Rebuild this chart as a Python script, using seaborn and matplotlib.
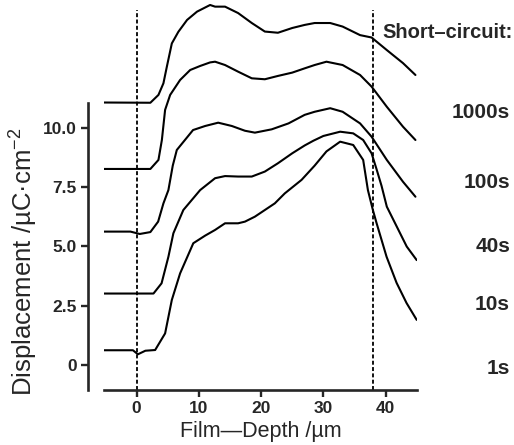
import matplotlib
matplotlib.use('Agg')
import matplotlib.pyplot as plt
import seaborn as sns
import pandas as pd

# curves (depth in um, displacement in uC/cm^2, stacked offsets as drawn)
times = ['1000s', '100s', '40s', '10s', '1s']

depth_1000 = [-5.3, 2.2, 3.5, 4.3, 4.85, 5.65, 6.7, 8.1, 9.7, 11.8, 12.6, 14.2, 16.3, 18.5,
              20.6, 22.7, 25.0, 27.0, 28.6, 31.1, 33.1, 35.9, 37.75, 40.2, 42.8, 44.8]
disp_1000 = [11.06, 11.05, 11.38, 11.87, 12.57, 13.55, 14.04, 14.54, 14.89, 15.17, 15.1, 15.1, 14.83, 14.41,
             14.05, 14.0, 14.2, 14.33, 14.41, 14.41, 14.26, 13.9, 13.8, 13.27, 12.72, 12.22]

depth_100 = [-5.3, 2.2, 3.5, 4.05, 4.57, 5.38, 6.98, 8.6, 10.2, 11.8, 12.6, 14.2, 16.3, 18.5,
             20.6, 22.7, 25.0, 27.0, 28.6, 30.5, 33.1, 35.9, 37.75, 40.2, 42.8, 44.8]
disp_100 = [8.26, 8.26, 8.64, 9.48, 10.75, 11.38, 12.01, 12.43, 12.6, 12.75, 12.78, 12.64, 12.36, 12.08,
            12.04, 12.18, 12.32, 12.5, 12.64, 12.78, 12.64, 12.22, 11.73, 10.88, 10.04, 9.48]

depth_40 = [-5.3, -1.0, 0.5, 2.2, 3.45, 4.3, 5.1, 5.8, 6.45, 9.06, 11.0, 13.1, 15.3, 17.4, 19.0,
            21.7, 24.4, 27.0, 28.6, 31.1, 33.1, 35.9, 37.75, 40.2, 42.8, 44.8]
disp_40 = [5.62, 5.62, 5.52, 5.6, 6.04, 6.81, 7.37, 8.4, 9.06, 9.9, 10.07, 10.21, 10.07, 9.87, 9.79,
           9.93, 10.18, 10.54, 10.67, 10.82, 10.67, 10.18, 9.62, 8.64, 7.72, 7.09]

depth_10 = [-5.3, 2.7, 4.0, 5.1, 5.9, 7.5, 10.2, 12.6, 14.2, 16.3, 18.5, 20.6, 22.7, 25.0, 27.0,
            28.4, 30.0, 32.7, 34.8, 36.4, 37.75, 38.55, 39.35, 40.2, 41.8, 43.4, 45.0]
disp_10 = [3.01, 3.01, 3.44, 4.56, 5.55, 6.53, 7.37, 7.87, 7.96, 7.94, 7.94, 8.15, 8.5, 8.92, 9.25,
           9.45, 9.65, 9.83, 9.76, 9.48, 8.92, 8.25, 7.55, 6.67, 5.83, 4.99, 4.42]

depth_1 = [-5.3, -0.6, 0.2, 1.4, 2.97, 4.57, 5.65, 6.98, 9.1, 11.0, 12.6, 14.2, 16.3, 17.4, 19.0,
           20.6, 22.2, 23.8, 26.5, 28.6, 30.5, 32.7, 34.8, 36.4, 37.16, 37.96, 38.55, 40.16,
           41.77, 43.37, 45.0]
disp_1 = [0.62, 0.62, 0.45, 0.6, 0.63, 1.33, 2.74, 3.86, 5.13, 5.45, 5.69, 5.97, 5.97, 6.04, 6.25,
          6.53, 6.81, 7.23, 7.8, 8.4, 9.0, 9.41, 9.27, 8.64, 7.37, 6.53, 5.98, 4.56,
          3.46, 2.61, 1.9]

curves = [(depth_1000, disp_1000), (depth_100, disp_100), (depth_40, disp_40),
          (depth_10, disp_10), (depth_1, disp_1)]

xticks = [0, 10, 20, 30, 40]
yticks = [0, 2.5, 5.0, 7.5, 10.0]
ytick_labels = ['0', '2.5', '5.0', '7.5', '10.0']
marker_depths = [0, 38]

rows = []
for t, (xs, ys) in zip(times, curves):
    for x, y in zip(xs, ys):
        rows.append({'time': t, 'depth': x, 'disp': y})
df = pd.DataFrame(rows)

sns.set_style('ticks')
plt.rcParams['font.family'] = ['Liberation Sans', 'DejaVu Sans']
plt.rcParams['mathtext.fontset'] = 'custom'
plt.rcParams['mathtext.rm'] = 'Liberation Sans'
plt.rcParams['mathtext.it'] = 'Liberation Sans:italic'

fig = plt.figure(figsize=(5.14, 4.45), dpi=100)
ax = fig.add_axes([104 / 514, 55 / 445, 313 / 514, 390 / 445])

sns.lineplot(data=df, x='depth', y='disp', units='time', estimator=None, sort=False,
             color='black', linewidth=1.5, legend=False, ax=ax)

ax.vlines(marker_depths, -1.055, 14.96, colors='black', linewidth=1.3,
          linestyles=(0, (2.2, 1.3)))

ax.set_xlim(-5.25, 45.05)
ax.set_ylim(-1.055, 15.38)

ax.spines['top'].set_visible(False)
ax.spines['right'].set_visible(False)
ax.spines['left'].set_position(('outward', 11.5))
ax.spines['left'].set_bounds(-1.055, 11.05)
for s in ['left', 'bottom']:
    ax.spines[s].set_linewidth(1.9)

ax.set_xticks(xticks)
ax.set_yticks(yticks)
ax.set_yticklabels(ytick_labels)
ax.tick_params(direction='out', length=5, width=1.7, labelsize=12.5, pad=3)
for lab in ax.get_xticklabels() + ax.get_yticklabels():
    lab.set_fontweight('bold')

ax.set_xlabel('Film\u2014Depth /\u00b5m', fontsize=15.5)
ax.set_ylabel('Displacement /\u00b5C\u00b7cm$^{-2}$', fontsize=18.5)
ax.xaxis.set_label_coords(0.5, -0.08)
ax.yaxis.set_label_coords(-0.204, 0.33)

fig.text(382 / 514, 1 - 33 / 445, 'Short\u2013circuit:', ha='left', va='center',
         fontsize=14.5, fontweight='bold')
label_rows = [113, 182, 247, 305, 368]
for t, py in zip(times, label_rows):
    fig.text(510 / 514, 1 - py / 445, t, ha='right', va='center', fontsize=15, fontweight='bold')

fig.savefig('out.png', dpi=100)
